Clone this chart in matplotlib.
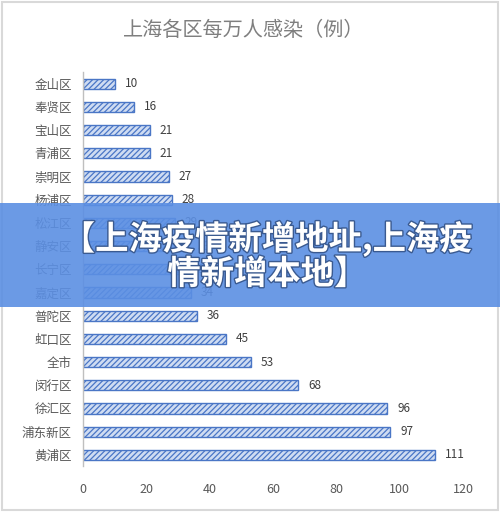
import matplotlib
matplotlib.use("Agg")
import matplotlib.pyplot as plt
import matplotlib.patches as patches
import matplotlib.patheffects as pe

plt.rcParams['font.family'] = ['Noto Sans CJK SC', 'DejaVu Sans']
plt.rcParams['hatch.linewidth'] = 0.9

# === Données ===
districts = ["金山区", "奉贤区", "宝山区", "青浦区", "崇明区", "杨浦区", "松江区",
             "静安区", "长宁区", "嘉定区", "普陀区", "虹口区", "全市", "闵行区",
             "徐汇区", "浦东新区", "黄浦区"]
values = [10, 16, 21, 21, 27, 28, 29, 33, 33, 34, 36, 45, 53, 68, 96, 97, 111]
xticks = [0, 20, 40, 60, 80, 100, 120]

title = "上海各区每万人感染（例）"
banner = "【上海疫情新增地址,上海疫\n情新增本地】"

# === Figure ===
fig = plt.figure(figsize=(5.0, 5.12), dpi=100)
fig.patch.set_facecolor("white")
ax = fig.add_axes([0.166, 0.089, 0.760, 0.770])

ypos = list(range(len(districts)))
ax.barh(ypos, values, height=0.44, color="#cfdcf2", edgecolor="#4a76c6",
        hatch="//////", linewidth=1.0, zorder=2)

for y, v in zip(ypos, values):
    ax.text(v + 3.2, y, str(v), va="center", ha="left", fontsize=8.5, color="#404040")

ax.set_ylim(len(districts) - 0.5, -0.5)
ax.set_xlim(0, 120)
ax.set_yticks(ypos)
ax.set_yticklabels(districts, fontsize=9, color="#595959")
ax.set_xticks(xticks)
ax.set_xticklabels([str(t) for t in xticks], fontsize=9, color="#595959")
ax.tick_params(length=0, pad=8)
ax.tick_params(axis="x", pad=12)
for s in ["top", "right", "bottom"]:
    ax.spines[s].set_visible(False)
ax.spines["left"].set_color("#bfbfbf")
ax.spines["left"].set_linewidth(1.0)

fig.text(0.487, 0.940, title, ha="center", va="center", fontsize=14.5, color="#7f7f7f")

# cadre gris
fig.patches.append(patches.Rectangle((0.004, 0.004), 0.992, 0.992, transform=fig.transFigure,
                                     fill=False, edgecolor="#d9d9d9", linewidth=1.5))

# bandeau bleu (légèrement transparent)
fig.patches.append(patches.Rectangle((0, 0.400), 1, 0.204, transform=fig.transFigure,
                                     facecolor="#5b8fe3", edgecolor="none", alpha=0.9, zorder=10))
fig.text(0.535, 0.500, banner, ha="center", va="center", fontsize=24, fontweight="bold",
         color="white", linespacing=1.05, zorder=11,
         path_effects=[pe.withStroke(linewidth=2, foreground="#3a5a90")])

fig.savefig("out.png", dpi=100, facecolor="white")
